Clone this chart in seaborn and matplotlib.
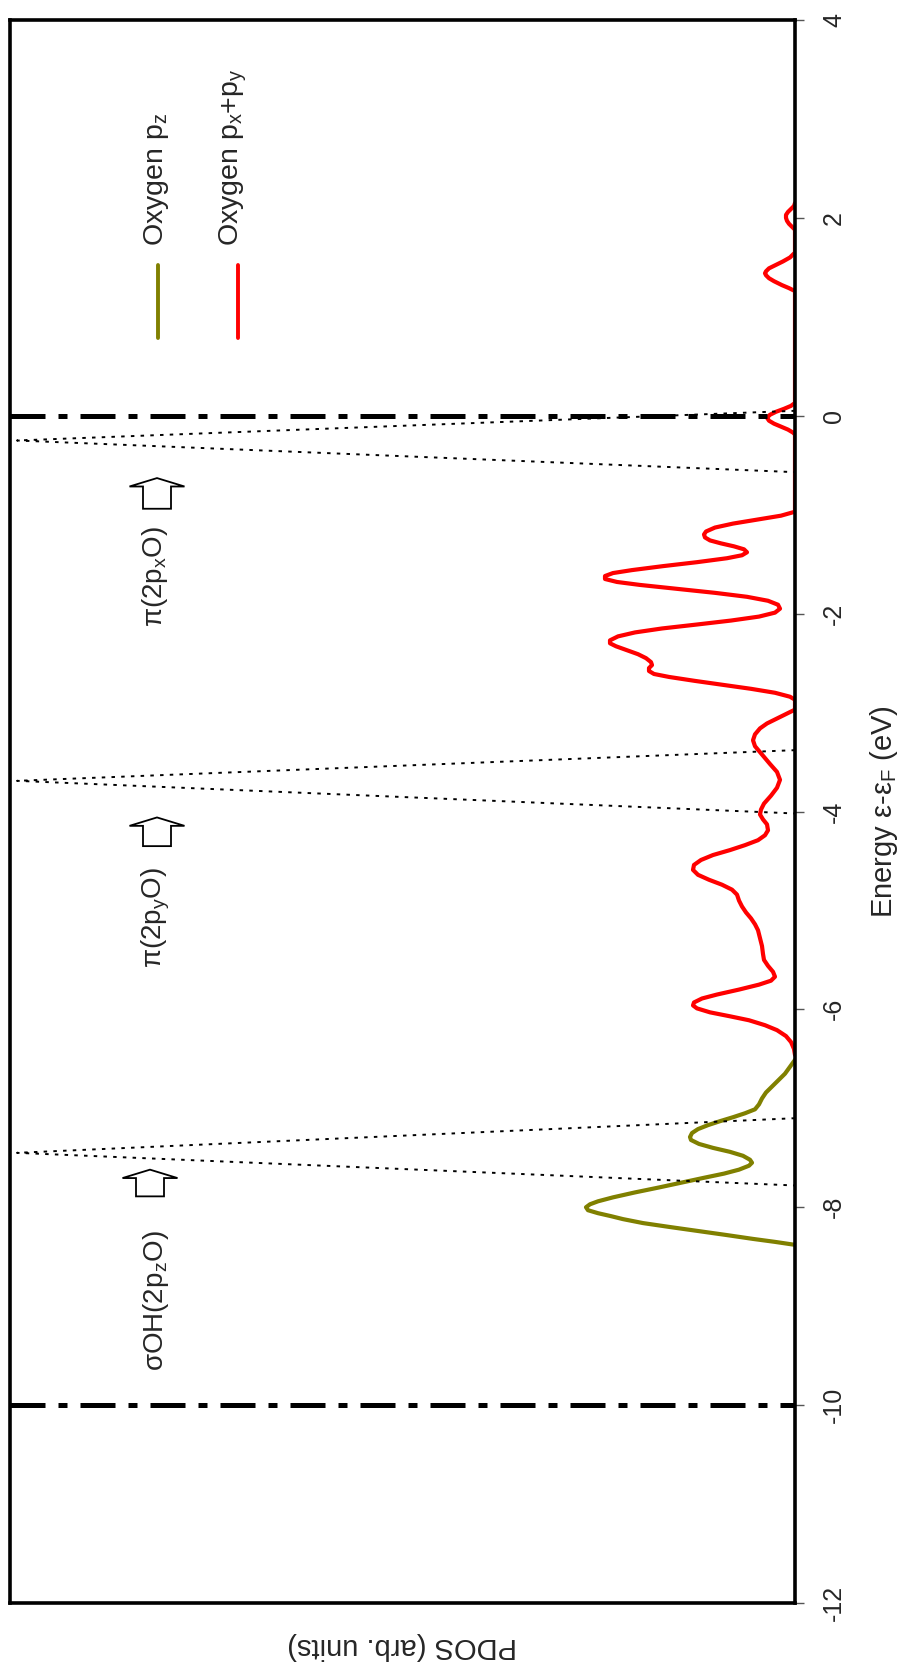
import matplotlib
matplotlib.use("Agg")
import matplotlib.pyplot as plt
import seaborn as sns
import pandas as pd
from matplotlib.patches import FancyArrow

# ---------------- data ----------------
# Oxygen px+py PDOS : energy (eV) and PDOS (arb. units)
red_energy = [2.15, 2.12, 2.09, 2.06, 2.03, 2.00, 1.97, 1.94, 1.91, 1.88,
              1.65, 1.60, 1.56, 1.52, 1.49, 1.46, 1.44, 1.42, 1.39, 1.36, 1.32, 1.29, 1.26,
              0.13, 0.10, 0.07, 0.04, 0.01, -0.02, -0.05, -0.08, -0.11, -0.14, -0.17, -0.19,
              -0.97, -1.01, -1.05, -1.09, -1.13, -1.17, -1.20, -1.23, -1.26, -1.29, -1.32,
              -1.35, -1.38, -1.41, -1.44, -1.48, -1.52, -1.56, -1.59, -1.62, -1.65, -1.68,
              -1.71, -1.75, -1.79, -1.83, -1.87, -1.91, -1.95, -1.99, -2.03, -2.07, -2.11,
              -2.15, -2.19, -2.23, -2.27, -2.30, -2.33, -2.37, -2.41, -2.45, -2.49, -2.52,
              -2.55, -2.58, -2.61, -2.64, -2.68, -2.72, -2.76, -2.80, -2.84, -2.87,
              -2.97, -3.01, -3.06, -3.11, -3.16, -3.22, -3.28, -3.34, -3.40, -3.46, -3.52,
              -3.60, -3.68, -3.76, -3.84, -3.92, -3.98, -4.03, -4.08, -4.13, -4.19, -4.24,
              -4.29, -4.34, -4.39, -4.44, -4.49, -4.54, -4.59, -4.64, -4.69, -4.74, -4.79,
              -4.84, -4.90, -4.96, -5.02, -5.08, -5.14, -5.20, -5.28, -5.36, -5.44, -5.50,
              -5.56, -5.62, -5.67, -5.71, -5.75, -5.80, -5.85, -5.89, -5.93, -5.96, -5.99,
              -6.03, -6.07, -6.11, -6.16, -6.21, -6.27, -6.33, -6.40, -6.46]
red_pdos = [0.00, 0.01, 0.04, 0.07, 0.09, 0.09, 0.08, 0.06, 0.03, 0.00,
            0.00, 0.05, 0.12, 0.20, 0.26, 0.29, 0.30, 0.29, 0.26, 0.21, 0.13, 0.06, 0.00,
            0.00, 0.04, 0.11, 0.19, 0.25, 0.28, 0.26, 0.21, 0.14, 0.07, 0.02, 0.00,
            0.00, 0.14, 0.38, 0.62, 0.80, 0.89, 0.91, 0.90, 0.85, 0.74, 0.61,
            0.51, 0.48, 0.53, 0.68, 0.98, 1.32, 1.63, 1.82, 1.90, 1.90, 1.78,
            1.55, 1.18, 0.80, 0.48, 0.27, 0.17, 0.15, 0.20, 0.36, 0.64, 0.98,
            1.33, 1.60, 1.77, 1.85, 1.85, 1.79, 1.68, 1.57, 1.49, 1.44, 1.43,
            1.46, 1.46, 1.41, 1.26, 1.00, 0.72, 0.44, 0.20, 0.05, 0.00,
            0.00, 0.08, 0.18, 0.28, 0.35, 0.40, 0.42, 0.40, 0.35, 0.30, 0.25,
            0.18, 0.15, 0.18, 0.24, 0.31, 0.34, 0.35, 0.32, 0.28, 0.27, 0.30,
            0.37, 0.50, 0.65, 0.82, 0.94, 1.01, 1.02, 0.97, 0.86, 0.73, 0.63,
            0.58, 0.56, 0.53, 0.49, 0.44, 0.40, 0.37, 0.35, 0.33, 0.32, 0.31,
            0.27, 0.22, 0.20, 0.24, 0.36, 0.56, 0.78, 0.93, 1.01, 1.02, 0.98,
            0.85, 0.65, 0.46, 0.30, 0.18, 0.09, 0.04, 0.01, 0.00]

# Oxygen pz PDOS
olive_energy = [-6.51, -6.58, -6.65, -6.72, -6.78, -6.84, -6.90, -6.96, -7.01, -7.05, -7.09,
                -7.13, -7.17, -7.21, -7.25, -7.29, -7.32, -7.36, -7.40, -7.44, -7.48, -7.52,
                -7.55, -7.58, -7.62, -7.66, -7.70, -7.75, -7.80, -7.85, -7.90, -7.94, -7.97,
                -8.00, -8.03, -8.06, -8.09, -8.12, -8.16, -8.20, -8.24, -8.28, -8.32, -8.35,
                -8.38]
olive_pdos = [0.00, 0.05, 0.10, 0.17, 0.23, 0.29, 0.33, 0.36, 0.40, 0.50, 0.62,
              0.75, 0.87, 0.97, 1.03, 1.05, 1.04, 0.96, 0.82, 0.65, 0.52, 0.45,
              0.43, 0.46, 0.56, 0.71, 0.90, 1.13, 1.36, 1.60, 1.82, 1.97, 2.05,
              2.09, 2.07, 1.97, 1.84, 1.72, 1.52, 1.25, 0.97, 0.69, 0.42, 0.20,
              0.00]

# molecular-level spikes (dotted)
spike_energy = [[0.05, -0.25, -0.57], [-3.38, -3.69, -4.02], [-7.10, -7.45, -7.78]]
spike_pdos = [[0.0, 7.78, 0.0], [0.0, 7.78, 0.0], [0.0, 7.78, 0.0]]

# dash-dot reference energies
ref_energy = [0, -10]

# axis ticks
energy_ticks = [-12, -10, -8, -6, -4, -2, 0, 2, 4]
tick_labels = ["-12", "-10", "-8", "-6", "-4", "-2", "0", "2", "4"]

# series labels / colours
series_labels = ["Oxygen p$_\\mathrm{z}$", "Oxygen p$_\\mathrm{x}$+p$_\\mathrm{y}$"]
series_colors = ["#808000", "#ff0000"]

# annotations: label, arrow tip energy, arrow base energy, text energy
annot_labels = ["σOH(2p$_\\mathrm{z}$O)", "π(2p$_\\mathrm{y}$O)", "π(2p$_\\mathrm{x}$O)"]
annot_tip = [-7.62, -4.06, -0.63]
annot_base = [-7.89, -4.35, -0.94]
annot_text_e = [-8.94, -5.07, -1.62]
annot_pdos = [6.45, 6.38, 6.38]
annot_text_pdos = [6.39, 6.39, 6.40]

# ---------------- style ----------------
sns.set_theme(style="white")
plt.rcParams["font.family"] = ["Liberation Sans", "DejaVu Sans"]
plt.rcParams["mathtext.fontset"] = "custom"
plt.rcParams["mathtext.rm"] = "Liberation Sans"
plt.rcParams["mathtext.it"] = "Liberation Sans:italic"
plt.rcParams["axes.unicode_minus"] = False

fig = plt.figure(figsize=(9.01, 16.66), dpi=100)
ax = fig.add_axes([10 / 901, 1 - 1603 / 1666, 785 / 901, 1583 / 1666])

df_red = pd.DataFrame({"energy": red_energy, "pdos": red_pdos})
df_olive = pd.DataFrame({"energy": olive_energy, "pdos": olive_pdos})

sns.lineplot(data=df_red, x="pdos", y="energy", sort=False, estimator=None, orient="y",
             color=series_colors[1], lw=3.0, ax=ax)
sns.lineplot(data=df_olive, x="pdos", y="energy", sort=False, estimator=None, orient="y",
             color=series_colors[0], lw=3.0, ax=ax)

for se, sp in zip(spike_energy, spike_pdos):
    ax.plot(sp, se, color="black", lw=1.4, linestyle=(0, (1.8, 3.2)))

for e in ref_energy:
    ax.axhline(e, color="black", lw=3.6, linestyle=(0, (7, 2.6, 1.8, 2.6)))

ax.set_ylim(-12, 4)
ax.set_xlim(7.85, 0)

# axes styling
for s in ax.spines.values():
    s.set_color("black")
    s.set_linewidth(2.6)
ax.set_xticks([])
ax.yaxis.tick_right()
ax.set_yticks(energy_ticks)
ax.set_yticklabels(tick_labels, rotation=90, va="center", fontsize=18)
ax.tick_params(axis="y", direction="out", length=6.5, width=1, color="#555555", pad=13,
               right=True, left=False)
ax.yaxis.set_label_position("right")
ax.set_ylabel("Energy ε-ε$_\\mathrm{F}$ (eV)", fontsize=21, rotation=90, labelpad=16)
ax.set_xlabel("PDOS (arb. units)", fontsize=21, rotation=180, labelpad=21)

# legend (rotated, drawn by hand)
leg_x_line = [0.188, 0.290]
leg_x_text = [0.195, 0.291]
for i in range(2):
    ax.plot([leg_x_line[i], leg_x_line[i]], [0.799, 0.845], transform=ax.transAxes,
            color=series_colors[i], lw=2.8, solid_capstyle="round")
    ax.text(leg_x_text[i], 0.857, series_labels[i], transform=ax.transAxes, rotation=90,
            rotation_mode="anchor", ha="left", va="baseline", fontsize=20.5)

# annotations with hollow block arrows
for lab, tip, base, te, xp, tx in zip(annot_labels, annot_tip, annot_base, annot_text_e,
                                       annot_pdos, annot_text_pdos):
    arr = FancyArrow(xp, base, 0, tip - base, width=0.28, head_width=0.55, head_length=0.085,
                     length_includes_head=True, fc="white", ec="black", lw=1.3)
    ax.add_patch(arr)
    ax.text(tx, te, lab, rotation=90, ha="center", va="center", fontsize=20)

fig.savefig("out.png", dpi=100)
